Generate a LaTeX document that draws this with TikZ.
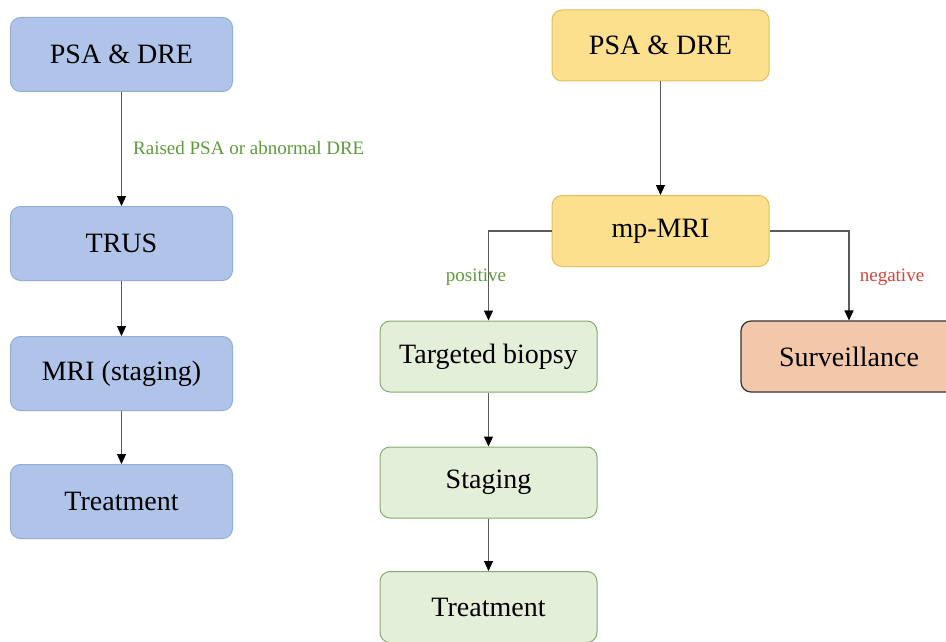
\documentclass[tikz,border=0pt]{standalone}
\usepackage{fontspec}
\setmainfont{Liberation Serif}
\usetikzlibrary{arrows.meta}
\definecolor{bluefill}{HTML}{AFC4E8}
\definecolor{blueline}{HTML}{93ACD9}
\definecolor{yelfill}{HTML}{FCE08E}
\definecolor{yelline}{HTML}{E3BD5A}
\definecolor{grnfill}{HTML}{E3EFD9}
\definecolor{grnline}{HTML}{86AA6E}
\definecolor{peachfill}{HTML}{F3C8AA}
\definecolor{peachline}{HTML}{333333}
\definecolor{lblgreen}{HTML}{5E9A3C}
\definecolor{lblred}{HTML}{D8433A}
\definecolor{wire}{HTML}{5A5A5A}
\begin{document}
\begin{tikzpicture}[x=1pt,y=-1pt,
  box/.style={rectangle, rounded corners=10pt, line width=1pt, inner sep=0pt,
    font=\fontsize{28}{30}\selectfont},
  bluebox/.style={box, fill=bluefill, draw=blueline, minimum width=222pt, minimum height=74pt},
  yelbox/.style={box, fill=yelfill, draw=yelline, minimum width=217pt, minimum height=71pt},
  grnbox/.style={box, fill=grnfill, draw=grnline, minimum width=217pt, minimum height=71pt},
  peachbox/.style={box, fill=peachfill, draw=peachline, line width=1.2pt, minimum width=216pt, minimum height=71pt},
  flow/.style={draw=wire, line width=1.2pt, -{Triangle[length=10pt,width=9pt,color=black]}},
  lbl/.style={font=\fontsize{19}{21}\selectfont, inner sep=0pt}
]
\useasboundingbox (0,0) rectangle (946,642);

% classic pathway
\node[bluebox] (lpsa)   at (121.5,54.5)  {PSA \& DRE};
\node[bluebox] (trus)   at (121.5,243.5) {TRUS};
\node[bluebox] (lmri)   at (121.5,373.5) {MRI (staging)};
\node[bluebox] (ltreat) at (121.5,501.5) {Treatment};

\draw[flow] (lpsa) -- (trus);
\draw[flow] (trus) -- (lmri);
\draw[flow] (lmri) -- (ltreat);
\node[lbl, text=lblgreen, anchor=west] (raised) at (133,148) {Raised PSA or abnormal DRE};

% MRI-first pathway
\node[yelbox] (rpsa)  at (660.5,45.5) {PSA \& DRE};
\node[yelbox] (mpmri) at (660.5,231)  {mp-MRI};
\node[grnbox] (tbiop) at (488.5,356.5) {Targeted biopsy};
\node[grnbox] (stage) at (488.5,482.5) {Staging};
\node[grnbox] (rtreat) at (488.5,607) {Treatment};
\node[peachbox] (surv) at (849,356.5) {Surveillance};

\draw[flow] (rpsa) -- (mpmri);
\draw[flow] (mpmri.west) -| (tbiop.north);
\draw[flow] (mpmri.east) -| (surv.north);
\draw[flow] (tbiop) -- (stage);
\draw[flow] (stage) -- (rtreat);

\node[lbl, text=lblgreen] (pos) at (476,277) {positive};
\node[lbl, text=lblred] (neg) at (892,277) {negative};
\end{tikzpicture}
\end{document}
